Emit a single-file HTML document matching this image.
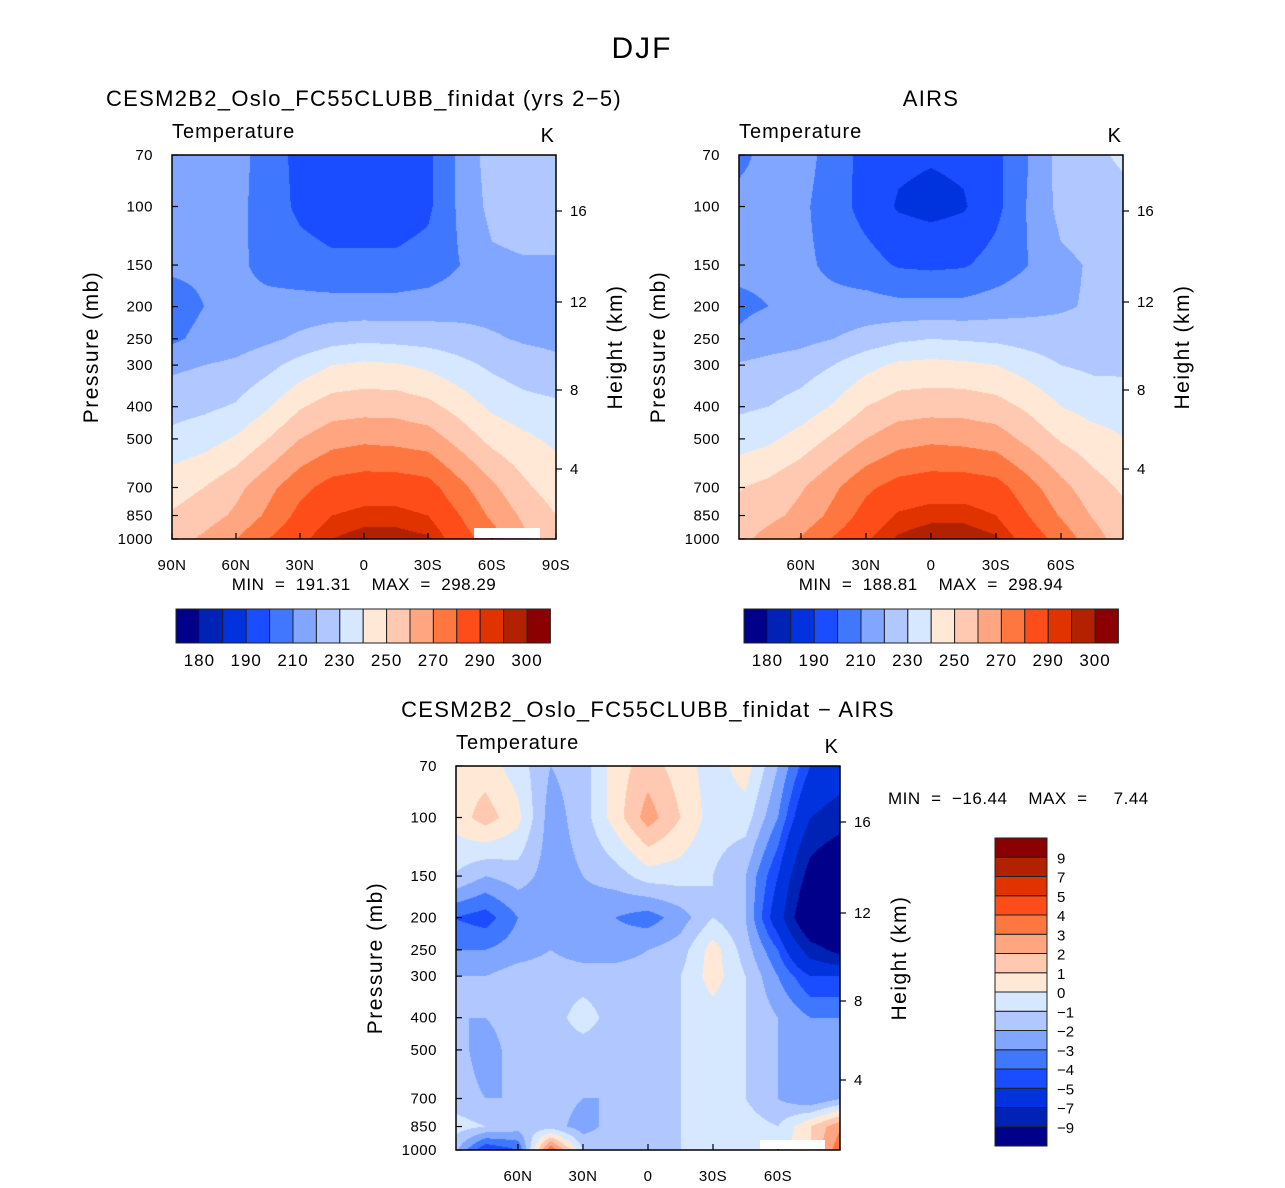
<!DOCTYPE html>
<html><head><meta charset="utf-8">
<style>
body{margin:0;background:#fff;width:1285px;height:1188px;overflow:hidden;font-family:"Liberation Sans",sans-serif;}
#root{position:relative;width:1285px;height:1188px;}
canvas{position:absolute;}
svg{position:absolute;left:0;top:0;}
text{white-space:pre;}
</style></head>
<body><div id="root">
<canvas id="c0"></canvas>
<canvas id="c1"></canvas>
<canvas id="c2"></canvas>
<svg id="s" width="1285" height="1188"></svg>
</div>
<script>
const lats=[90,75,60,45,30,15,0,-15,-30,-45,-60,-75,-90];
const levels=[70,100,150,200,250,300,400,500,700,850,1000];
const modelT=[
[210,212,214,205,197,196,196,196,198,212,225,227,228],
[211,212,213,205,198,195,195,195,198,212,223,225,225],
[212,212,212,207,204,202,202,202,204,210,218,219,219],
[205,210,212,213,214,214,214,214,215,216,217,217,216],
[208,213,215,218,222,226,228,227,226,224,221,219,218],
[218,220,222,227,234,240,242,241,238,233,228,224,222],
[226,228,231,239,249,255,256,256,253,246,238,234,232],
[233,236,241,250,260,266,268,267,265,256,247,242,238],
[246,250,257,267,277,284,286,286,284,273,262,252,245],
[251,255,262,272,283,290,292,292,290,280,268,258,250],
[255,262,270,280,288,295,298,298,296,285,275,262,252]];
const airsT=[
[209,211,214,206,196,192,191,192,197,210,224,228,232],
[211,211,212,205,196,189,187,189,197,211,223,225,227],
[212,212,212,208,204,199,198,199,204,210,218,221,223],
[208,210,212,213,214,213,213,213,215,217,219,221,222],
[211,215,217,220,224,228,230,229,228,226,224,224,224],
[221,223,225,230,237,242,243,242,240,235,230,228,228],
[228,230,234,241,250,255,256,256,254,248,240,236,235],
[235,238,244,252,260,266,268,267,265,257,249,244,240],
[249,253,259,268,278,284,286,286,284,274,263,254,248],
[252,257,263,273,284,291,293,293,290,280,269,259,252],
[256,264,271,281,289,296,299,299,296,286,276,264,254]];
const diffT=[
[0.5,0.5,-0.5,-2,-1.5,0.5,1.5,0.5,-0.5,0.5,-2,-5,-6],
[0.3,1.5,0.3,-2.5,-1.5,0.5,2.5,1,-0.5,-0.5,-3,-7,-8],
[-1,-2,-1.5,-2.5,-2,-1.5,-0.5,-0.5,-1,-2,-5,-10,-12],
[-4,-4.5,-3,-2.5,-2.5,-3,-3.5,-2.5,-1,-2,-6,-12,-12],
[-3,-3,-2.5,-2,-2.5,-2.5,-2,-1.5,0.5,-1.5,-4,-8,-10],
[-2,-2,-1.5,-1.5,-1.5,-1.5,-1.5,-1,0.5,-1,-3,-5,-5],
[-2,-2,-1.5,-1.5,-0.5,-1.5,-1.5,-1,-0.5,-1,-2,-3,-3],
[-1.5,-2.5,-1.5,-1.5,-1.5,-1.5,-1.5,-1,-0.5,-1,-2,-2,-2],
[-1.5,-2,-2,-1.5,-2,-2,-1.5,-1,-1,-1,-2,-3,-2],
[-0.5,-1,-1.5,-1.5,-2.5,-1.5,-1.5,-1,-0.5,-0.5,-1,1,3],
[-1.5,-5,-4,4,-1,-1,-1,-1,-1,-1,-0.5,1,4]];
const tLevels=[180,185,190,200,210,220,230,240,250,260,270,280,290,295,300];
const tLabels=["180","190","210","230","250","270","290","300"];
const dLevels=[-9,-7,-5,-4,-3,-2,-1,0,1,2,3,4,5,7,9];
const dLabels=["-9","-7","-5","-4","-3","-2","-1","0","1","2","3","4","5","7","9"];
const palette=["#00008b","#0022b5","#0033dd","#1a4dff","#4077ff","#80a6ff","#b0c8ff","#d6e8ff","#ffe8d6","#ffc8b0","#ffa680","#ff7740","#ff4d1a","#e03300","#b32200","#8b0000"];
const pTicks=[70,100,150,200,250,300,400,500,700,850,1000];
const hTicks=[["16",16],["12",12],["8",8],["4",4]];
const hPix={16:211,12:302,8:390,4:469};

const PH=384;
function yOfP(p,top){return top+PH*Math.log10(p/70)/Math.log10(1000/70);}
function hexRgb(h){return [parseInt(h.substr(1,2),16),parseInt(h.substr(3,2),16),parseInt(h.substr(5,2),16)];}
const palRgb=palette.map(hexRgb);
function colorIdx(v,lv){let i=0;while(i<lv.length&&v>=lv[i])i++;return i;}
function sample(grid,lat,p){
  let li=0;while(li<lats.length-2&&lat<lats[li+1])li++;
  let fl=(lats[li]-lat)/(lats[li]-lats[li+1]);fl=Math.max(0,Math.min(1,fl));
  const lp=Math.log(p);let pi=0;while(pi<levels.length-2&&p>levels[pi+1])pi++;
  let fp=(lp-Math.log(levels[pi]))/(Math.log(levels[pi+1])-Math.log(levels[pi]));fp=Math.max(0,Math.min(1,fp));
  const a=grid[pi][li]*(1-fl)+grid[pi][li+1]*fl,b=grid[pi+1][li]*(1-fl)+grid[pi+1][li+1]*fl;
  return a*(1-fp)+b*fp;
}
function drawField(id,grid,lv,x0,y0,latMax){
  const c=document.getElementById(id);c.width=384;c.height=384;c.style.left=x0+"px";c.style.top=y0+"px";
  const ctx=c.getContext('2d');const img=ctx.createImageData(384,384);
  for(let y=0;y<384;y++){const p=70*Math.pow(1000/70,(y+0.5)/384);
    for(let x=0;x<384;x++){const lat=latMax-(x+0.5)/384*2*latMax;
      const col=palRgb[colorIdx(sample(grid,lat,p),lv)];const k=(y*384+x)*4;
      img.data[k]=col[0];img.data[k+1]=col[1];img.data[k+2]=col[2];img.data[k+3]=255;}}
  ctx.putImageData(img,0,0);
}
drawField('c0',modelT,tLevels,172,155,90);
drawField('c1',airsT,tLevels,739,155,88.6);
drawField('c2',diffT,dLevels,456,766,88.6);

const S=document.getElementById('s');const NS="http://www.w3.org/2000/svg";
function el(tag,attrs,name,text){const e=document.createElementNS(NS,tag);for(const k in attrs)e.setAttribute(k,attrs[k]);
  
  
  if(text!==undefined)e.textContent=text;S.appendChild(e);return e;}
function txt(x,y,s,size,anchor,name,extra){return el('text',Object.assign({x:x,y:y,'font-size':size,'text-anchor':anchor||'start','font-family':'Liberation Sans, sans-serif',fill:'#000'},extra||{}),name,s);}

txt(642,58,"DJF",30,"middle","figure-title",{'letter-spacing':2});

function panel(x0,y0,latMax,xLabs,title,titleX,minmax,sfx){
  el('rect',{x:x0,y:y0,width:384,height:384,fill:'none',stroke:'#000','stroke-width':1.5},'plot-frame-'+sfx);
  txt(titleX,y0-49,title,22,"middle","panel-title-"+sfx,{'letter-spacing':1.3});
  txt(x0,y0-17,"Temperature",20,"start","variable-label-"+sfx,{'letter-spacing':1});
  txt(x0+382,y0-13,"K",20,"end","units-label-"+sfx);
  pTicks.forEach(p=>{const y=yOfP(p,y0);
    el('line',{x1:x0,x2:x0+6,y1:y,y2:y,stroke:'#000','stroke-width':1.2},'y-tick-'+sfx);
    txt(x0-19,y+5,String(p),15,"end","y-tick-label-"+sfx,{'letter-spacing':0.5});});
  hTicks.forEach(h=>{const y=hPix[h[1]]-155+y0;
    el('line',{x1:x0+384,x2:x0+384+6,y1:y,y2:y,stroke:'#000','stroke-width':1.2},'height-tick-'+sfx);
    txt(x0+398,y+5,h[0],15,"start","height-tick-label-"+sfx);});
  xLabs.forEach(l=>{const x=x0+(latMax-l[1])/(2*latMax)*384;
    el('line',{x1:x,x2:x,y1:y0+384,y2:y0+378,stroke:'#000','stroke-width':1.2},'x-tick-'+sfx);
    txt(x,y0+415,l[0],15,"middle","x-tick-label-"+sfx,{'letter-spacing':0.5});});
  txt(x0-74,y0+192,"Pressure (mb)",21,"middle","y-axis-title-"+sfx,{transform:`rotate(-90 ${x0-74} ${y0+192})`,'letter-spacing':1.5});
  txt(x0+450,y0+192,"Height (km)",21,"middle","height-axis-title-"+sfx,{transform:`rotate(-90 ${x0+450} ${y0+192})`,'letter-spacing':1.5});
  if(minmax)txt(x0+192,y0+435,minmax,17,"middle","min-max-"+sfx,{'letter-spacing':0.5});
}
function hbar(x0,y0,sfx){
  const w=23.4;palette.forEach((c,i)=>el('rect',{x:x0+i*w,y:y0,width:w,height:34,fill:c,stroke:'#222','stroke-width':1},'colorbar-box-'+sfx));
  tLabels.forEach((l,j)=>txt(x0+(2*j+1)*w,y0+57,l,17,"middle","colorbar-label-"+sfx,{'letter-spacing':1}));
}
const fullX=[["90N",90],["60N",60],["30N",30],["0",0],["30S",-30],["60S",-60],["90S",-90]];
const partX=[["60N",60],["30N",30],["0",0],["30S",-30],["60S",-60]];
panel(172,155,90,fullX,"CESM2B2_Oslo_FC55CLUBB_finidat (yrs 2\u22125)",364,"MIN  =  191.31    MAX  =  298.29","model");
panel(739,155,88.6,partX,"AIRS",931,"MIN  =  188.81    MAX  =  298.94","airs");
panel(456,766,88.6,partX,"CESM2B2_Oslo_FC55CLUBB_finidat \u2212 AIRS",648,null,"diff");
el('rect',{x:474,y:528,width:66,height:10,fill:'#fff'},'missing-data-model');
el('rect',{x:760,y:1140,width:65,height:9,fill:'#fff'},'missing-data-diff');
hbar(176,609,"model");hbar(744,609,"airs");
txt(888,804,"MIN  =  \u221216.44    MAX  =     7.44",17,"start","min-max-diff",{'letter-spacing':0.5});
const vh=19.25;
palette.forEach((c,i)=>el('rect',{x:995,y:838+(15-i)*vh,width:52,height:vh,fill:c,stroke:'#222','stroke-width':1},'diff-colorbar-box'));
dLabels.forEach((l,j)=>txt(1057,838+(15-j)*vh+6,l.replace('-','\u2212'),15,"start","diff-colorbar-label"));
</script>
</body></html>
